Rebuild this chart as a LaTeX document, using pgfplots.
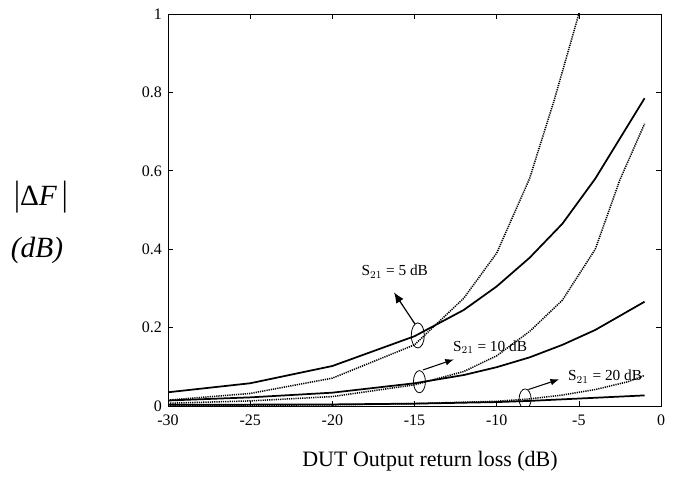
\documentclass[border=0pt]{standalone}
\usepackage{fontspec}
\setmainfont{Liberation Serif}
\usepackage{pgfplots}
\pgfplotsset{compat=1.18}
\usetikzlibrary{arrows.meta}

\begin{document}
\begin{tikzpicture}[x=0.75pt,y=0.75pt]
\useasboundingbox (0,0) rectangle (689,477);
\begin{axis}[
    at={(168pt*0.75,71pt*0.75)}, anchor=south west,
    scale only axis,
    width=369.75pt, height=294pt,
    xmin=-30, xmax=0, ymin=0, ymax=1,
    xtick={-30,-25,...,0},
    ytick={0,0.2,0.4,0.6,0.8,1},
    tick align=inside,
    major tick length=4pt,
    axis line style={line width=0.6pt},
    tick style={line width=0.5pt, black},
    tick label style={font=\fontsize{12}{14}\selectfont},
    xticklabel style={yshift=-3pt},
    yticklabel style={xshift=-1pt},
    /pgf/number format/assume math mode=true,
    clip=true,
]
% S21 = 5 dB
\addplot[black, line width=1.3pt] coordinates {
  (-30,0.035) (-25,0.058) (-20,0.102) (-15,0.178) (-12,0.245)
  (-10,0.305) (-8,0.378) (-6,0.465) (-4,0.58) (-1,0.785)
};
\addplot[black, line width=1.15pt, dash pattern=on 0.9pt off 0.75pt] coordinates {
  (-30,0.015) (-25,0.032) (-20,0.071) (-15,0.156) (-12,0.275)
  (-10,0.39) (-8,0.58) (-6.5,0.78) (-5,1.0) (-4.5,1.08)
};
% S21 = 10 dB
\addplot[black, line width=1.3pt] coordinates {
  (-30,0.014) (-25,0.022) (-20,0.034) (-15,0.058) (-12,0.079)
  (-10,0.099) (-8,0.124) (-6,0.156) (-4,0.194) (-1,0.266)
};
\addplot[black, line width=1.15pt, dash pattern=on 0.9pt off 0.75pt] coordinates {
  (-30,0.007) (-25,0.013) (-20,0.024) (-15,0.054) (-12,0.088)
  (-10,0.128) (-8,0.19) (-6,0.27) (-4,0.40) (-2.5,0.577) (-1,0.72)
};
% S21 = 20 dB
\addplot[black, line width=1.3pt] coordinates {
  (-30,0.003) (-20,0.004) (-15,0.006) (-10,0.010) (-8,0.013)
  (-6,0.017) (-4,0.021) (-1,0.027)
};
\addplot[black, line width=1.15pt, dash pattern=on 0.9pt off 0.75pt] coordinates {
  (-30,0.001) (-20,0.003) (-15,0.006) (-10,0.012) (-8,0.018)
  (-6,0.028) (-4,0.042) (-2,0.062) (-1,0.078)
};
% annotations
\draw[line width=0.6pt] (axis cs:-14.8,0.18) ellipse [x radius=4.9pt, y radius=9.4pt];
\draw[line width=0.9pt,-{Latex[length=8pt,width=6.5pt]}] (axis cs:-14.97,0.209) -- (axis cs:-16.25,0.29);
\node[font=\fontsize{11.5}{13}\selectfont] at (axis cs:-16.2,0.343) {S$_{21}$ = 5 dB};
\draw[line width=0.6pt] (axis cs:-14.7,0.062) ellipse [x radius=4.5pt, y radius=8.3pt];
\draw[line width=0.8pt,-{Latex[length=6.5pt,width=5pt]}] (axis cs:-14.48,0.092) -- (axis cs:-12.6,0.119);
\node[font=\fontsize{11.5}{13}\selectfont] at (axis cs:-10.4,0.15) {S$_{21}$ = 10 dB};
\draw[line width=0.6pt] (axis cs:-8.27,0.018) ellipse [x radius=4.5pt, y radius=7.5pt];
\draw[line width=0.8pt,-{Latex[length=6.5pt,width=5pt]}] (axis cs:-8.07,0.042) -- (axis cs:-6.2,0.068);
\node[font=\fontsize{11.5}{13}\selectfont] at (axis cs:-3.4,0.075) {S$_{21}$ = 20 dB};
\end{axis}
\node[font=\fontsize{22}{26}\selectfont] at (41,477-197) {\scalebox{1}[1.2]{|}Δ\textit{F}\,\scalebox{1}[1.2]{|}};
\node[font=\fontsize{22}{26}\selectfont] at (37,477-250) {\textit{(dB)}};
\node[font=\fontsize{16.5}{19}\selectfont] at (430,477-461) {DUT Output return loss (dB)};
\end{tikzpicture}
\end{document}
